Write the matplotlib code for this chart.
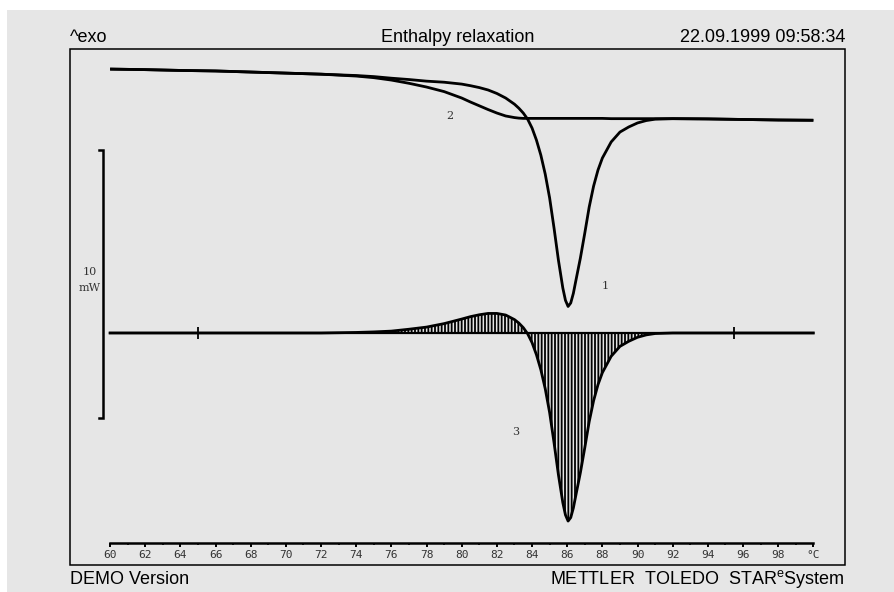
import numpy as np
import matplotlib

matplotlib.use("Agg")
import matplotlib.pyplot as plt
from matplotlib.patches import Rectangle

# Temperature grid (°C) shared by the measured curves
temp = [60, 62, 64, 66, 68, 70, 72, 74, 75, 76, 77, 78, 79, 80, 80.5, 81, 81.5,
        82, 82.5, 83, 83.25, 83.5, 83.75, 84, 84.25, 84.5, 84.75, 85, 85.25,
        85.5, 85.75, 85.9, 86.05, 86.2, 86.35, 86.5, 86.75, 87, 87.25, 87.5,
        87.75, 88, 88.5, 89, 89.5, 90, 90.5, 91, 92, 94, 96, 98, 100]

# Curve 1: aged sample, heat flow in mW (offset)
curve1 = [9.85, 9.83, 9.80, 9.78, 9.74, 9.70, 9.66, 9.61, 9.57, 9.51, 9.46,
          9.40, 9.36, 9.29, 9.23, 9.16, 9.07, 8.94, 8.77, 8.54, 8.39, 8.21,
          7.98, 7.65, 7.20, 6.64, 5.93, 5.04, 3.92, 2.72, 1.68, 1.22, 0.99,
          1.12, 1.48, 1.98, 2.80, 3.73, 4.70, 5.48, 6.08, 6.53, 7.13, 7.50,
          7.69, 7.84, 7.93, 7.98, 8.00, 7.99, 7.97, 7.95, 7.94]

# Curve 2: reference (unaged) run, heat flow in mW (offset)
curve2 = [9.85, 9.83, 9.80, 9.78, 9.74, 9.70, 9.66, 9.59, 9.53, 9.44, 9.32,
          9.18, 9.01, 8.77, 8.62, 8.48, 8.34, 8.21, 8.10, 8.04, 8.02, 8.01,
          8.01, 8.01, 8.01, 8.01, 8.01, 8.01, 8.01, 8.01, 8.01, 8.01, 8.01,
          8.01, 8.01, 8.01, 8.01, 8.01, 8.01, 8.01, 8.01, 8.01, 8.00, 8.00,
          8.00, 8.00, 8.00, 8.00, 8.00, 7.99, 7.97, 7.95, 7.94]

# Curve 3 = curve 1 - curve 2, drawn on its own baseline
baseline_level = 0.0
limit_temps = [65.0, 95.5]        # integration limits marked on the baseline
scale_bottom, scale_len = -3.17, 10.0   # 10 mW scale bar
axis_level = -7.83                # where the temperature axis sits

tick_values = list(range(60, 101, 2))
tick_labels = [str(v) for v in range(60, 99, 2)] + ["°C"]

W, H = 895, 592
BG = "#e6e6e6"

fig = plt.figure(figsize=(W / 100, H / 100), dpi=100, facecolor="white")
fig.patches.append(Rectangle((7 / W, 0), 1, (H - 10) / H, transform=fig.transFigure,
                             facecolor=BG, edgecolor="none", zorder=-5))

box_l, box_r, box_t, box_b = 70, 845, 49, 565
ax = fig.add_axes([box_l / W, (H - box_b) / H, (box_r - box_l) / W, (box_b - box_t) / H])
ax.set_facecolor(BG)
ax.set_xlim(57.72, 101.8)
ax.set_ylim(-8.66, 10.60)

fig.patches.append(Rectangle((box_l / W, (H - box_b) / H), (box_r - box_l) / W,
                             (box_b - box_t) / H, transform=fig.transFigure,
                             facecolor="none", edgecolor="black", lw=1.1, zorder=5))

t = np.array(temp)
c1 = np.array(curve1)
c2 = np.array(curve2)
c3 = c1 - c2 + baseline_level

ax.plot(t, c1, color="black", lw=2.0, solid_capstyle="butt")
ax.plot(t, c2, color="black", lw=2.0, solid_capstyle="butt")

plt.rcParams["hatch.linewidth"] = 1.3
ax.fill_between(t, c3, baseline_level, facecolor="none", edgecolor="black",
                hatch="|||||", linewidth=0)
ax.plot(t, c3, color="black", lw=2.0)
ax.plot([t[0], t[-1]], [baseline_level, baseline_level], color="black", lw=1.6)
ax.plot(limit_temps, [baseline_level] * 2, ls="none", marker="|", ms=8,
        mew=1.3, color="black")

# scale bar
sx = 59.6
ax.plot([sx - 0.23, sx, sx, sx - 0.23],
        [scale_bottom, scale_bottom, scale_bottom + scale_len, scale_bottom + scale_len],
        color="black", lw=1.8, solid_joinstyle="miter")
lbl = dict(fontsize=8, family="DejaVu Serif", ha="center", va="center", color="#333333")
ax.text(58.86, 2.28, "10", **lbl)
ax.text(58.86, 1.68, "mW", **lbl)

# curve labels
for x, y, s in [(88.16, 1.75, "1"), (79.34, 8.10, "2"), (83.09, -3.69, "3")]:
    ax.text(x, y, s, **lbl)

# temperature axis
for side in ["top", "left", "right"]:
    ax.spines[side].set_visible(False)
ax.spines["bottom"].set_position(("data", axis_level))
ax.spines["bottom"].set_bounds(60, 100)
ax.spines["bottom"].set_linewidth(1.8)
ax.set_xticks(tick_values)
ax.set_xticklabels(tick_labels, family="DejaVu Sans Mono", fontsize=8, color="#333333")
ax.set_xticks(range(61, 100, 2), minor=True)
ax.tick_params(axis="x", which="major", direction="out", length=3, width=1.4, pad=2)
ax.tick_params(axis="x", which="minor", direction="out", length=1.5, width=1.2)
ax.set_yticks([])

# header / footer
hdr = dict(family="Liberation Sans", fontsize=13, color="black")
fig.text(box_l / W, (H - 42) / H, "^exo", ha="left", va="baseline", **hdr)
fig.text(458 / W, (H - 42) / H, "Enthalpy relaxation", ha="center", va="baseline", **hdr)
fig.text(box_r / W, (H - 42) / H, "22.09.1999 09:58:34", ha="right", va="baseline", **hdr)
fig.text(box_l / W, (H - 584) / H, "DEMO Version", ha="left", va="baseline", **hdr)
fig.text(box_r / W, (H - 584) / H, r"METTLER  TOLEDO  STAR$^\mathregular{e}$System",
         ha="right", va="baseline", **hdr)

fig.savefig("out.png", dpi=100, facecolor=fig.get_facecolor())
